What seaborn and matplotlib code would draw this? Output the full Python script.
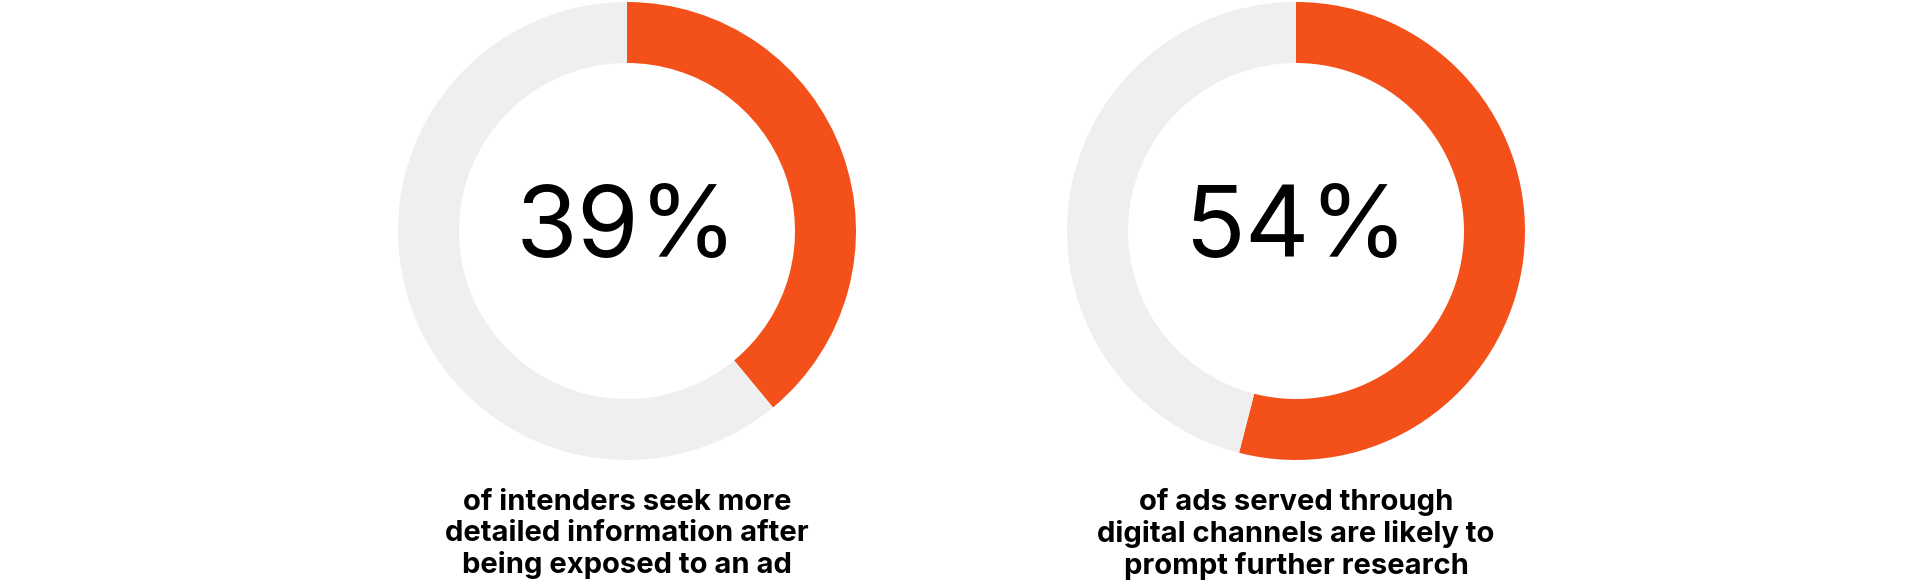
import matplotlib
matplotlib.use("Agg")
import matplotlib.pyplot as plt
import seaborn as sns

# stats shown in the two donuts
percents = [39, 54]
captions = [
    "of intenders seek more\ndetailed information after\nbeing exposed to an ad",
    "of ads served through\ndigital channels are likely to\nprompt further research",
]
centers_x = [627, 1296]

sns.set_theme(style="white")
plt.rcParams['font.family'] = ['Inter', 'DejaVu Sans']

orange = "#F4511A"
grey = "#EFEFEF"

fig = plt.figure(figsize=(19.2, 5.83), dpi=100)
ax = fig.add_axes([0, 0, 1, 1])
ax.set_xlim(0, 1920)
ax.set_ylim(0, 583)
ax.set_aspect("equal")
ax.axis("off")

cy = 583 - 231
for pct, cap, cx in zip(percents, captions, centers_x):
    ax.pie([pct, 100 - pct], colors=[orange, grey], startangle=90, counterclock=False,
           center=(cx, cy), radius=229, wedgeprops=dict(width=61, linewidth=0))
    ax.text(cx, cy, f"{pct}%", ha="center", va="center", fontsize=72, color="black")
    ax.text(cx, 583 - 534, cap, ha="center", va="center", fontsize=21, fontweight="bold",
            color="black", linespacing=1.2)

ax.set_xlim(0, 1920)
ax.set_ylim(0, 583)
fig.savefig("out.png", dpi=100)
